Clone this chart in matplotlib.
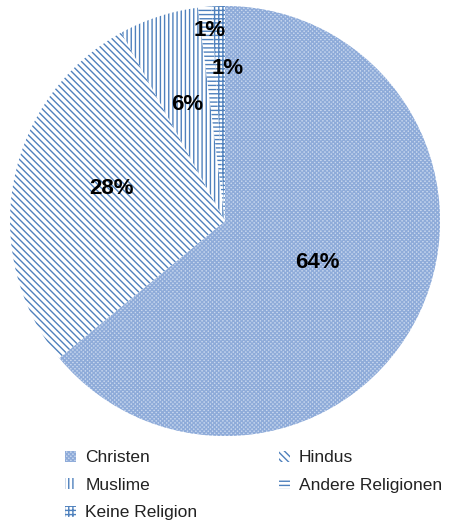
import numpy as np
import matplotlib.pyplot as plt
import matplotlib.patches as mpatches

plt.rcParams['font.family'] = ['Liberation Sans', 'DejaVu Sans']
plt.rcParams['hatch.linewidth'] = 1.0

religions = ["Christen", "Hindus", "Muslime", "Andere Religionen", "Keine Religion"]
shares = [64, 28, 6, 1, 1]
hatches = ["xxxxxxxx", "\\\\\\\\\\", "||||", "----", "++++"]
faces = ["#c8d7ee", "white", "white", "white", "white"]
hatch_colors = ["#8eabd9", "#4f81bd", "#4f81bd", "#4f81bd", "#4f81bd"]

# label positions (fraction of radius, angle in degrees clockwise from top)
label_pos = [(0.47, 114), (0.55, 286), (0.57, 342), (0.89, 355.5), (0.71, 1.0)]

fig = plt.figure(figsize=(4.52, 5.23), dpi=100)
ax = fig.add_axes([10 / 452, 1 - 437 / 523, 430 / 452, 432 / 523])

wedges, _ = ax.pie(shares, startangle=90, counterclock=False, radius=1.0,
                   colors=faces, wedgeprops=dict(linewidth=0))
for w, h, c in zip(wedges, hatches, hatch_colors):
    w.set_hatch(h)
    w.set_edgecolor(c)
    w.set_linewidth(0)

for val, (r, ang) in zip(shares, label_pos):
    a = np.deg2rad(90 - ang)
    ax.text(r * np.cos(a), r * np.sin(a), f"{val}%", ha="center", va="center",
            fontsize=16, fontweight="bold", color="black")

ax.set_xlim(-1, 1)
ax.set_ylim(-1, 1)
ax.set_aspect("equal")
ax.axis("off")

handles = [mpatches.Patch(facecolor=f, edgecolor=c, hatch=h, linewidth=0)
           for f, h, c in zip(faces, hatches, hatch_colors)]
# legend fills row by row: Christen/Hindus, Muslime/Andere, Keine
order = [0, 2, 4, 1, 3]
leg = fig.legend([handles[i] for i in order], [religions[i] for i in order],
                 loc="upper left", bbox_to_anchor=(62 / 452, 1 - 447 / 523),
                 ncol=2, frameon=False, fontsize=12.5, handlelength=0.6, handleheight=0.6,
                 handletextpad=0.55, columnspacing=4.7, labelspacing=0.72,
                 borderaxespad=0, borderpad=0.2)
for t in leg.get_texts():
    t.set_color("#222222")

fig.savefig("out.png", dpi=100)
